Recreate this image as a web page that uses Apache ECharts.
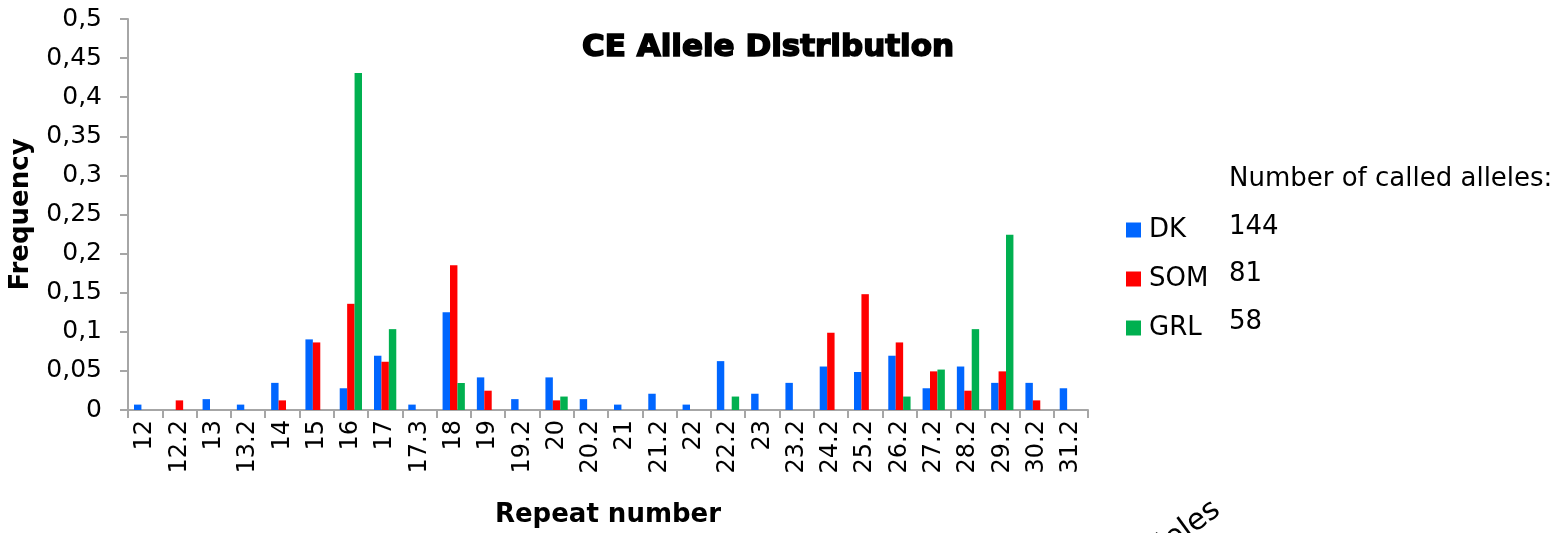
<!DOCTYPE html>
<html>
<head>
<meta charset="utf-8">
<script src="https://cdn.jsdelivr.net/npm/echarts@6/dist/echarts.min.js"></script>
<style>
html,body{margin:0;padding:0;background:#fff;}
#chart{width:1564px;height:533px;}
</style>
</head>
<body>
<div id="chart"></div>
<script>
const categories = ['12','12.2','13','13.2','14','15','16','17','17.3','18','19','19.2','20','20.2','21','21.2','22','22.2','23','23.2','24.2','25.2','26.2','27.2','28.2','29.2','30.2','31.2'];
const seriesNames = ['DK','SOM','GRL'];
const dkValues  = [0.0069,0,0.0139,0.0069,0.0347,0.0903,0.0278,0.0694,0.0069,0.125,0.0417,0.0139,0.0417,0.0139,0.0069,0.0208,0.0069,0.0625,0.0208,0.0347,0.0556,0.0486,0.0694,0.0278,0.0556,0.0347,0.0347,0.0278];
const somValues = [0,0.0123,0,0,0.0123,0.0864,0.1358,0.0617,0,0.1852,0.0247,0,0.0123,0,0,0,0,0,0,0,0.0988,0.1481,0.0864,0.0494,0.0247,0.0494,0.0123,0];
const grlValues = [0,0,0,0,0,0,0.431,0.1034,0,0.0345,0,0,0.0172,0,0,0,0,0.0172,0,0,0,0,0.0172,0.0517,0.1034,0.2241,0,0];
const alleleCounts = [144, 81, 58];
const yTicks = {min: 0, max: 0.5, interval: 0.05};

const colors = ['#0066FF', '#FF0000', '#00B050'];
const axisGray = '#A6A6A6';
const font = 'DejaVu Sans, Verdana, sans-serif';

const chart = echarts.init(document.getElementById('chart'), null, {renderer: 'canvas'});
const valueArrays = [dkValues, somValues, grlValues];

const option = {
  animation: false,
  backgroundColor: '#ffffff',
  color: colors,
  title: {
    text: 'CE Allele Distribution',
    left: 768, top: 32,
    textAlign: 'center',
    padding: 0,
    textStyle: {fontFamily: font, fontWeight: 'bold', fontSize: 31, color: '#000', textBorderColor: '#000', textBorderWidth: 1.6}
  },
  legend: {
    orient: 'vertical',
    left: 1126, top: 216,
    padding: 0,
    itemWidth: 15, itemHeight: 15,
    itemGap: 21,
    icon: 'rect',
    data: seriesNames,
    textStyle: {fontFamily: font, fontSize: 26, color: '#000', lineHeight: 26, padding: [2,0,0,3]}
  },
  grid: {left: 128, right: 476, top: 19, bottom: 121, containLabel: false},
  xAxis: {
    type: 'category',
    data: categories,
    boundaryGap: true,
    name: 'Repeat number',
    nameLocation: 'middle',
    nameGap: 92,
    nameTextStyle: {fontFamily: font, fontWeight: 'bold', fontSize: 26, color: '#000'},
    axisLine: {lineStyle: {color: axisGray, width: 2}},
    axisTick: {show: true, length: 8, lineStyle: {color: axisGray, width: 2}, alignWithLabel: false},
    axisLabel: {interval: 0, rotate: 90, margin: 10, fontFamily: font, fontSize: 24, color: '#000'},
    splitLine: {show: false}
  },
  yAxis: {
    type: 'value',
    min: yTicks.min, max: yTicks.max, interval: yTicks.interval,
    name: 'Frequency',
    nameLocation: 'middle',
    nameRotate: 90,
    nameGap: 94,
    nameTextStyle: {fontFamily: font, fontWeight: 'bold', fontSize: 26, color: '#000'},
    axisLine: {show: true, lineStyle: {color: axisGray, width: 2}},
    axisTick: {show: true, length: 8, lineStyle: {color: axisGray, width: 2}},
    axisLabel: {margin: 26, fontFamily: font, fontSize: 25, color: '#000',
      formatter: v => String(+v.toFixed(2)).replace('.', ',')},
    splitLine: {show: false}
  },
  series: seriesNames.map((n, i) => ({
    name: n,
    type: 'bar',
    data: valueArrays[i],
    barGap: '0%',
    barCategoryGap: '35%',
    itemStyle: {color: colors[i]}
  })),
  graphic: [
    {type: 'text', left: 1229, top: 166, style: {text: 'Number of called alleles:', font: '26px ' + font, fill: '#000'}},
    ...alleleCounts.map((c, i) => ({
      type: 'text', left: 1229, top: 214 + i * 47.5,
      style: {text: String(c), font: '26px ' + font, fill: '#000'}
    })),
    {type: 'text', x: 1226, y: 519, rotation: 36 * Math.PI / 180,
      style: {text: 'alleles', font: '30px ' + font, fill: '#000', textAlign: 'right', textVerticalAlign: 'bottom'}}
  ]
};
chart.setOption(option);
</script>
</body>
</html>
